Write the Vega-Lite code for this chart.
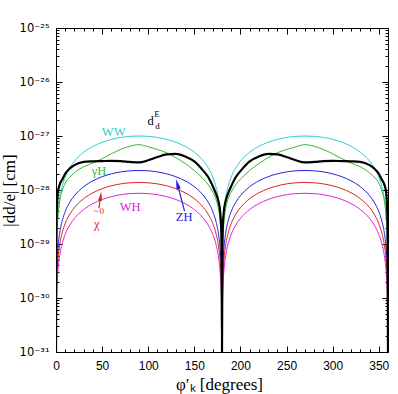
{
  "$schema": "https://vega.github.io/schema/vega-lite/v6.json",
  "width": 332,
  "height": 324,
  "autosize": {"type": "none"},
  "padding": {"left": 56, "top": 28, "right": 10, "bottom": 42},
  "background": "white",
  "config": {
    "view": {"stroke": "black", "strokeWidth": 1},
    "axis": {"labelFont": "Liberation Sans", "labelFontSize": 12, "labelColor": "black", "titleFont": "Liberation Serif", "titleFontSize": 17, "titleFontWeight": "normal", "titleColor": "black", "grid": false, "domain": false, "tickColor": "black", "labelFlush": false, "labelOverlap": false}
  },
  "resolve": {"axis": {"x": "independent", "y": "independent"}},
  "layer": [
    {
      "data": {"values": [
        {"x":0,"WW":1e-31,"gH":1e-31,"ZH":1e-31,"CH":1e-31,"WH":1e-31,"dE":1e-31},
        {"x":0.5,"WW":8.73e-30,"gH":7.94e-30,"ZH":2.01e-30,"CH":1.204e-30,"WH":7.59e-31,"dE":2.51e-29},
        {"x":1,"WW":1.745e-29,"gH":1.585e-29,"ZH":4.01e-30,"CH":2.408e-30,"WH":1.518e-30,"dE":5.01e-29},
        {"x":2,"WW":3.49e-29,"gH":3.16e-29,"ZH":8.03e-30,"CH":4.816e-30,"WH":3.036e-30,"dE":8.91e-29},
        {"x":4,"WW":6.98e-29,"gH":6.31e-29,"ZH":1.604e-29,"CH":9.626e-30,"WH":6.069e-30,"dE":1.259e-28},
        {"x":7,"WW":1.219e-28,"gH":1.0e-28,"ZH":2.803e-29,"CH":1.682e-29,"WH":1.06e-29,"dE":1.585e-28},
        {"x":10,"WW":1.736e-28,"gH":1.349e-28,"ZH":3.994e-29,"CH":2.396e-29,"WH":1.511e-29,"dE":1.995e-28},
        {"x":15,"WW":2.588e-28,"gH":1.738e-28,"ZH":5.953e-29,"CH":3.572e-29,"WH":2.252e-29,"dE":2.512e-28},
        {"x":20,"WW":3.42e-28,"gH":2.089e-28,"ZH":7.866e-29,"CH":4.72e-29,"WH":2.976e-29,"dE":2.884e-28},
        {"x":30,"WW":5.0e-28,"gH":2.692e-28,"ZH":1.15e-28,"CH":6.9e-29,"WH":4.35e-29,"dE":3.311e-28},
        {"x":40,"WW":6.43e-28,"gH":3.162e-28,"ZH":1.478e-28,"CH":8.87e-29,"WH":5.592e-29,"dE":3.388e-28},
        {"x":50,"WW":7.66e-28,"gH":3.802e-28,"ZH":1.762e-28,"CH":1.057e-28,"WH":6.665e-29,"dE":3.428e-28},
        {"x":60,"WW":8.66e-28,"gH":4.677e-28,"ZH":1.992e-28,"CH":1.195e-28,"WH":7.534e-29,"dE":3.467e-28},
        {"x":70,"WW":9.4e-28,"gH":5.623e-28,"ZH":2.161e-28,"CH":1.297e-28,"WH":8.175e-29,"dE":3.428e-28},
        {"x":80,"WW":9.85e-28,"gH":6.457e-28,"ZH":2.265e-28,"CH":1.359e-28,"WH":8.568e-29,"dE":3.311e-28},
        {"x":90,"WW":1.0e-27,"gH":6.918e-28,"ZH":2.3e-28,"CH":1.38e-28,"WH":8.7e-29,"dE":3.236e-28},
        {"x":100,"WW":9.85e-28,"gH":6.31e-28,"ZH":2.265e-28,"CH":1.359e-28,"WH":8.568e-29,"dE":3.548e-28},
        {"x":110,"WW":9.4e-28,"gH":5.623e-28,"ZH":2.161e-28,"CH":1.297e-28,"WH":8.175e-29,"dE":4.074e-28},
        {"x":120,"WW":8.66e-28,"gH":4.898e-28,"ZH":1.992e-28,"CH":1.195e-28,"WH":7.534e-29,"dE":4.571e-28},
        {"x":130,"WW":7.66e-28,"gH":3.981e-28,"ZH":1.762e-28,"CH":1.057e-28,"WH":6.665e-29,"dE":4.677e-28},
        {"x":140,"WW":6.43e-28,"gH":3.09e-28,"ZH":1.478e-28,"CH":8.87e-29,"WH":5.592e-29,"dE":4.169e-28},
        {"x":150,"WW":5.0e-28,"gH":2.291e-28,"ZH":1.15e-28,"CH":6.9e-29,"WH":4.35e-29,"dE":3.388e-28},
        {"x":160,"WW":3.42e-28,"gH":1.585e-28,"ZH":7.866e-29,"CH":4.72e-29,"WH":2.976e-29,"dE":2.239e-28},
        {"x":165,"WW":2.588e-28,"gH":1.259e-28,"ZH":5.953e-29,"CH":3.572e-29,"WH":2.252e-29,"dE":1.738e-28},
        {"x":170,"WW":1.736e-28,"gH":9.12e-29,"ZH":3.994e-29,"CH":2.396e-29,"WH":1.511e-29,"dE":1.175e-28},
        {"x":173,"WW":1.219e-28,"gH":7.08e-29,"ZH":2.803e-29,"CH":1.682e-29,"WH":1.06e-29,"dE":8.91e-29},
        {"x":176,"WW":6.98e-29,"gH":4.47e-29,"ZH":1.604e-29,"CH":9.626e-30,"WH":6.069e-30,"dE":6.31e-29},
        {"x":178,"WW":3.49e-29,"gH":2.51e-29,"ZH":8.03e-30,"CH":4.816e-30,"WH":3.036e-30,"dE":3.98e-29},
        {"x":179,"WW":1.745e-29,"gH":1.259e-29,"ZH":4.01e-30,"CH":2.408e-30,"WH":1.518e-30,"dE":2.24e-29},
        {"x":179.5,"WW":8.73e-30,"gH":6.31e-30,"ZH":2.01e-30,"CH":1.204e-30,"WH":7.59e-31,"dE":1.12e-29},
        {"x":180,"WW":1e-31,"gH":1e-31,"ZH":1e-31,"CH":1e-31,"WH":1e-31,"dE":1e-31},
        {"x":180.5,"WW":8.73e-30,"gH":6.31e-30,"ZH":2.01e-30,"CH":1.204e-30,"WH":7.59e-31,"dE":1.12e-29},
        {"x":181,"WW":1.745e-29,"gH":1.259e-29,"ZH":4.01e-30,"CH":2.408e-30,"WH":1.518e-30,"dE":2.24e-29},
        {"x":182,"WW":3.49e-29,"gH":2.51e-29,"ZH":8.03e-30,"CH":4.816e-30,"WH":3.036e-30,"dE":3.98e-29},
        {"x":184,"WW":6.98e-29,"gH":4.47e-29,"ZH":1.604e-29,"CH":9.626e-30,"WH":6.069e-30,"dE":6.31e-29},
        {"x":187,"WW":1.219e-28,"gH":7.08e-29,"ZH":2.803e-29,"CH":1.682e-29,"WH":1.06e-29,"dE":8.91e-29},
        {"x":190,"WW":1.736e-28,"gH":9.12e-29,"ZH":3.994e-29,"CH":2.396e-29,"WH":1.511e-29,"dE":1.175e-28},
        {"x":195,"WW":2.588e-28,"gH":1.259e-28,"ZH":5.953e-29,"CH":3.572e-29,"WH":2.252e-29,"dE":1.738e-28},
        {"x":200,"WW":3.42e-28,"gH":1.585e-28,"ZH":7.866e-29,"CH":4.72e-29,"WH":2.976e-29,"dE":2.239e-28},
        {"x":210,"WW":5.0e-28,"gH":2.291e-28,"ZH":1.15e-28,"CH":6.9e-29,"WH":4.35e-29,"dE":3.388e-28},
        {"x":220,"WW":6.43e-28,"gH":3.09e-28,"ZH":1.478e-28,"CH":8.87e-29,"WH":5.592e-29,"dE":4.169e-28},
        {"x":230,"WW":7.66e-28,"gH":3.981e-28,"ZH":1.762e-28,"CH":1.057e-28,"WH":6.665e-29,"dE":4.677e-28},
        {"x":240,"WW":8.66e-28,"gH":4.898e-28,"ZH":1.992e-28,"CH":1.195e-28,"WH":7.534e-29,"dE":4.571e-28},
        {"x":250,"WW":9.4e-28,"gH":5.623e-28,"ZH":2.161e-28,"CH":1.297e-28,"WH":8.175e-29,"dE":4.074e-28},
        {"x":260,"WW":9.85e-28,"gH":6.31e-28,"ZH":2.265e-28,"CH":1.359e-28,"WH":8.568e-29,"dE":3.548e-28},
        {"x":270,"WW":1.0e-27,"gH":6.918e-28,"ZH":2.3e-28,"CH":1.38e-28,"WH":8.7e-29,"dE":3.236e-28},
        {"x":280,"WW":9.85e-28,"gH":6.457e-28,"ZH":2.265e-28,"CH":1.359e-28,"WH":8.568e-29,"dE":3.311e-28},
        {"x":290,"WW":9.4e-28,"gH":5.623e-28,"ZH":2.161e-28,"CH":1.297e-28,"WH":8.175e-29,"dE":3.428e-28},
        {"x":300,"WW":8.66e-28,"gH":4.677e-28,"ZH":1.992e-28,"CH":1.195e-28,"WH":7.534e-29,"dE":3.467e-28},
        {"x":310,"WW":7.66e-28,"gH":3.802e-28,"ZH":1.762e-28,"CH":1.057e-28,"WH":6.665e-29,"dE":3.428e-28},
        {"x":320,"WW":6.43e-28,"gH":3.162e-28,"ZH":1.478e-28,"CH":8.87e-29,"WH":5.592e-29,"dE":3.388e-28},
        {"x":330,"WW":5.0e-28,"gH":2.692e-28,"ZH":1.15e-28,"CH":6.9e-29,"WH":4.35e-29,"dE":3.311e-28},
        {"x":340,"WW":3.42e-28,"gH":2.089e-28,"ZH":7.866e-29,"CH":4.72e-29,"WH":2.976e-29,"dE":2.884e-28},
        {"x":345,"WW":2.588e-28,"gH":1.738e-28,"ZH":5.953e-29,"CH":3.572e-29,"WH":2.252e-29,"dE":2.512e-28},
        {"x":350,"WW":1.736e-28,"gH":1.349e-28,"ZH":3.994e-29,"CH":2.396e-29,"WH":1.511e-29,"dE":1.995e-28},
        {"x":353,"WW":1.219e-28,"gH":1.0e-28,"ZH":2.803e-29,"CH":1.682e-29,"WH":1.06e-29,"dE":1.585e-28},
        {"x":356,"WW":6.98e-29,"gH":6.31e-29,"ZH":1.604e-29,"CH":9.626e-30,"WH":6.069e-30,"dE":1.259e-28},
        {"x":358,"WW":3.49e-29,"gH":3.16e-29,"ZH":8.03e-30,"CH":4.816e-30,"WH":3.036e-30,"dE":8.91e-29},
        {"x":359,"WW":1.745e-29,"gH":1.585e-29,"ZH":4.01e-30,"CH":2.408e-30,"WH":1.518e-30,"dE":5.01e-29},
        {"x":359.5,"WW":8.73e-30,"gH":7.94e-30,"ZH":2.01e-30,"CH":1.204e-30,"WH":7.59e-31,"dE":2.51e-29},
        {"x":360,"WW":1e-31,"gH":1e-31,"ZH":1e-31,"CH":1e-31,"WH":1e-31,"dE":1e-31}
      ]},
      "transform": [{"fold": ["WW", "gH", "ZH", "CH", "WH", "dE"], "as": ["s", "v"]}],
      "mark": {"type": "line", "interpolate": "monotone", "clip": true},
      "encoding": {
        "x": {"field": "x", "type": "quantitative", "scale": {"domain": [0, 360], "nice": false, "zero": false},
              "axis": {"orient": "bottom", "values": [0, 50, 100, 150, 200, 250, 300, 350], "ticks": false, "labelPadding": 8, "title": "φ′ₖ  [degrees]", "titleX": 163, "titleY": 37, "titleBaseline": "alphabetic", "titleAlign": "center"}},
        "y": {"field": "v", "type": "quantitative", "scale": {"type": "log", "domain": [1e-31, 1e-25], "nice": false},
              "axis": {"orient": "left", "values": [1e-31, 1e-30, 1e-29, 1e-28, 1e-27, 1e-26, 1e-25], "ticks": false, "labelPadding": 7, "labelFont": "DejaVu Sans", "labelFontSize": 11.5,
                       "labelExpr": "datum.value > 5e-26 ? '10⁻²⁵' : datum.value > 5e-27 ? '10⁻²⁶' : datum.value > 5e-28 ? '10⁻²⁷' : datum.value > 5e-29 ? '10⁻²⁸' : datum.value > 5e-30 ? '10⁻²⁹' : datum.value > 5e-31 ? '10⁻³⁰' : '10⁻³¹'",
                       "title": "|dd/e| [cm]", "titleAngle": 270, "titleX": -42, "titleY": 162, "titleBaseline": "alphabetic", "titleAlign": "center"}},
        "color": {"field": "s", "type": "nominal", "scale": {"domain": ["WW", "gH", "ZH", "CH", "WH", "dE"], "range": ["#33cccc", "#33bb33", "#2222dd", "#dd2222", "#dd22dd", "#000000"]}, "legend": null},
        "strokeWidth": {"condition": {"test": "datum.s === 'dE'", "value": 2.2}, "value": 1}
      }
    },
    {
      "data": {"values": [{"x": 0, "v": 1e-28}]},
      "mark": {"type": "point", "opacity": 0},
      "encoding": {
        "x": {"field": "x", "type": "quantitative", "axis": {"orient": "bottom", "values": [0, 50, 100, 150, 200, 250, 300, 350], "labels": false, "tickSize": -6, "title": null}},
        "y": {"field": "v", "type": "quantitative", "axis": {"orient": "left", "values": [1e-31, 1e-30, 1e-29, 1e-28, 1e-27, 1e-26, 1e-25], "labels": false, "tickSize": -6, "title": null}}
      }
    },
    {
      "data": {"values": [{"x": 0, "v": 1e-28}]},
      "mark": {"type": "point", "opacity": 0},
      "encoding": {
        "x": {"field": "x", "type": "quantitative", "axis": {"orient": "bottom", "values": [10,20,30,40,60,70,80,90,110,120,130,140,160,170,180,190,210,220,230,240,260,270,280,290,310,320,330,340], "labels": false, "tickSize": -3, "title": null}},
        "y": {"field": "v", "type": "quantitative", "axis": {"orient": "left", "values": [2e-31,3e-31,4e-31,5e-31,6e-31,7e-31,8e-31,9e-31,2e-30,3e-30,4e-30,5e-30,6e-30,7e-30,8e-30,9e-30,2e-29,3e-29,4e-29,5e-29,6e-29,7e-29,8e-29,9e-29,2e-28,3e-28,4e-28,5e-28,6e-28,7e-28,8e-28,9e-28,2e-27,3e-27,4e-27,5e-27,6e-27,7e-27,8e-27,9e-27,2e-26,3e-26,4e-26,5e-26,6e-26,7e-26,8e-26,9e-26], "labels": false, "tickSize": -3, "title": null}}
      }
    },
    {
      "data": {"values": [{"x": 0, "v": 1e-28}]},
      "mark": {"type": "point", "opacity": 0},
      "encoding": {
        "x": {"field": "x", "type": "quantitative", "axis": {"orient": "top", "values": [0, 50, 100, 150, 200, 250, 300, 350], "labels": false, "tickSize": -6, "title": null}},
        "y": {"field": "v", "type": "quantitative", "axis": {"orient": "right", "values": [1e-31, 1e-30, 1e-29, 1e-28, 1e-27, 1e-26, 1e-25], "labels": false, "tickSize": -6, "title": null}}
      }
    },
    {
      "data": {"values": [{"x": 0, "v": 1e-28}]},
      "mark": {"type": "point", "opacity": 0},
      "encoding": {
        "x": {"field": "x", "type": "quantitative", "axis": {"orient": "top", "values": [10,20,30,40,60,70,80,90,110,120,130,140,160,170,180,190,210,220,230,240,260,270,280,290,310,320,330,340], "labels": false, "tickSize": -3, "title": null}},
        "y": {"field": "v", "type": "quantitative", "axis": {"orient": "right", "values": [2e-31,3e-31,4e-31,5e-31,6e-31,7e-31,8e-31,9e-31,2e-30,3e-30,4e-30,5e-30,6e-30,7e-30,8e-30,9e-30,2e-29,3e-29,4e-29,5e-29,6e-29,7e-29,8e-29,9e-29,2e-28,3e-28,4e-28,5e-28,6e-28,7e-28,8e-28,9e-28,2e-27,3e-27,4e-27,5e-27,6e-27,7e-27,8e-27,9e-27,2e-26,3e-26,4e-26,5e-26,6e-26,7e-26,8e-26,9e-26], "labels": false, "tickSize": -3, "title": null}}
      }
    },
    {
      "data": {"values": [
        {"t": "WW", "s": "WW", "x": 62.5, "v": 1.2e-27},
        {"t": "d", "s": "dE", "x": 102.5, "v": 1.88e-27},
        {"t": "γH", "s": "gH", "x": 46.6, "v": 2.29e-28},
        {"t": "WH", "s": "WH", "x": 80.3, "v": 4.81e-29},
        {"t": "ZH", "s": "ZH", "x": 139, "v": 3.13e-29},
        {"t": "χ", "s": "CH", "x": 44.2, "v": 2.3e-29}
      ]},
      "mark": {"type": "text", "font": "Liberation Serif", "fontSize": 12.5, "align": "center", "baseline": "middle"},
      "encoding": {
        "x": {"field": "x", "type": "quantitative", "axis": null},
        "y": {"field": "v", "type": "quantitative", "axis": null},
        "text": {"field": "t"},
        "color": {"field": "s", "type": "nominal", "legend": null}
      }
    },
    {
      "data": {"values": [
        {"t": "E", "s": "dE", "x": 109.5, "v": 2.53e-27},
        {"t": "d", "s": "dE", "x": 110, "v": 1.52e-27},
        {"t": "~", "s": "CH", "x": 43.6, "v": 4.0e-29},
        {"t": "0", "s": "CH", "x": 49.6, "v": 4.1e-29}
      ]},
      "mark": {"type": "text", "font": "Liberation Serif", "fontSize": 9, "align": "center", "baseline": "middle"},
      "encoding": {
        "x": {"field": "x", "type": "quantitative", "axis": null},
        "y": {"field": "v", "type": "quantitative", "axis": null},
        "text": {"field": "t"},
        "color": {"field": "s", "type": "nominal", "legend": null}
      }
    },
    {
      "data": {"values": [
        {"s": "CH", "x": 46.5, "v": 4.6e-29, "x2": 48.4, "v2": 7.67e-29},
        {"s": "ZH", "x": 139.4, "v": 4.05e-29, "x2": 131.6, "v2": 1.29e-28}
      ]},
      "mark": {"type": "rule", "strokeWidth": 1.2},
      "encoding": {
        "x": {"field": "x", "type": "quantitative", "axis": null},
        "y": {"field": "v", "type": "quantitative", "axis": null},
        "x2": {"field": "x2"},
        "y2": {"field": "v2"},
        "color": {"field": "s", "type": "nominal", "legend": null}
      }
    },
    {
      "data": {"values": [{"s": "CH", "x": 48.4, "v": 7.67e-29}]},
      "mark": {"type": "point", "shape": "M0,-1L0.45,1L-0.45,1Z", "size": 81, "filled": true, "opacity": 1, "angle": 7.3},
      "encoding": {
        "x": {"field": "x", "type": "quantitative", "axis": null},
        "y": {"field": "v", "type": "quantitative", "axis": null},
        "color": {"field": "s", "type": "nominal", "legend": null}
      }
    },
    {
      "data": {"values": [{"s": "ZH", "x": 131.6, "v": 1.29e-28}]},
      "mark": {"type": "point", "shape": "M0,-1L0.45,1L-0.45,1Z", "size": 100, "filled": true, "opacity": 1, "angle": 345.1},
      "encoding": {
        "x": {"field": "x", "type": "quantitative", "axis": null},
        "y": {"field": "v", "type": "quantitative", "axis": null},
        "color": {"field": "s", "type": "nominal", "legend": null}
      }
    }
  ]
}
